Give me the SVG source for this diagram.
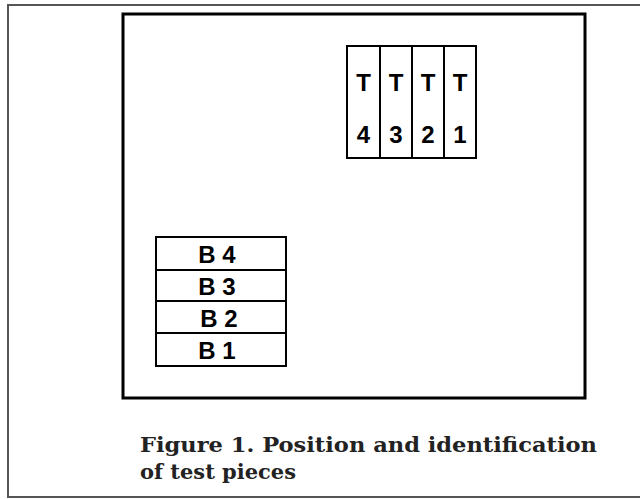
<svg xmlns="http://www.w3.org/2000/svg" width="640" height="499" viewBox="0 0 640 499">
  <style>
    .frame { fill: none; stroke: #555; stroke-width: 2; }
    .plate { fill: #fff; stroke: #000; stroke-width: 3; }
    .piece { fill: #fff; stroke: #000; stroke-width: 2; }
    .lbl { font-family: "Liberation Sans", Arial, sans-serif; font-weight: bold; font-size: 24px; fill: #000; text-anchor: middle; }
    .cap { font-family: "DejaVu Serif", "Liberation Serif", serif; font-weight: bold; font-size: 21px; fill: #222; }
  </style>
  <rect width="640" height="499" fill="#fff"/>

  <!-- outer frame (open on the right) -->
  <path class="frame" d="M640,5 H8 V497 H640"/>

  <!-- test plate -->
  <g id="plate">
    <rect class="plate" x="123" y="14" width="462" height="384"/>
  </g>

  <!-- top pieces, T4..T1 -->
  <g id="T4">
    <rect class="piece" x="347" y="46" width="33" height="112"/>
    <text class="lbl" x="363.5" y="91">T</text>
    <text class="lbl" x="363.5" y="143">4</text>
  </g>
  <g id="T3">
    <rect class="piece" x="380" y="46" width="32" height="112"/>
    <text class="lbl" x="396" y="91">T</text>
    <text class="lbl" x="396" y="143">3</text>
  </g>
  <g id="T2">
    <rect class="piece" x="412" y="46" width="32" height="112"/>
    <text class="lbl" x="428" y="91">T</text>
    <text class="lbl" x="428" y="143">2</text>
  </g>
  <g id="T1">
    <rect class="piece" x="444" y="46" width="32" height="112"/>
    <text class="lbl" x="460" y="91">T</text>
    <text class="lbl" x="460" y="143">1</text>
  </g>

  <!-- bottom pieces, B4..B1 -->
  <g id="B4">
    <rect class="piece" x="156" y="237" width="130" height="33"/>
    <text class="lbl" x="217" y="263">B 4</text>
  </g>
  <g id="B3">
    <rect class="piece" x="156" y="270" width="130" height="31"/>
    <text class="lbl" x="217" y="295">B 3</text>
  </g>
  <g id="B2">
    <rect class="piece" x="156" y="301" width="130" height="32"/>
    <text class="lbl" x="219" y="327">B 2</text>
  </g>
  <g id="B1">
    <rect class="piece" x="156" y="333" width="130" height="33"/>
    <text class="lbl" x="217" y="359">B 1</text>
  </g>

  <!-- caption -->
  <text class="cap" x="140" y="452" textLength="457" lengthAdjust="spacingAndGlyphs">Figure 1. Position and identification</text>
  <text class="cap" x="140" y="479" textLength="156" lengthAdjust="spacingAndGlyphs">of test pieces</text>
</svg>
